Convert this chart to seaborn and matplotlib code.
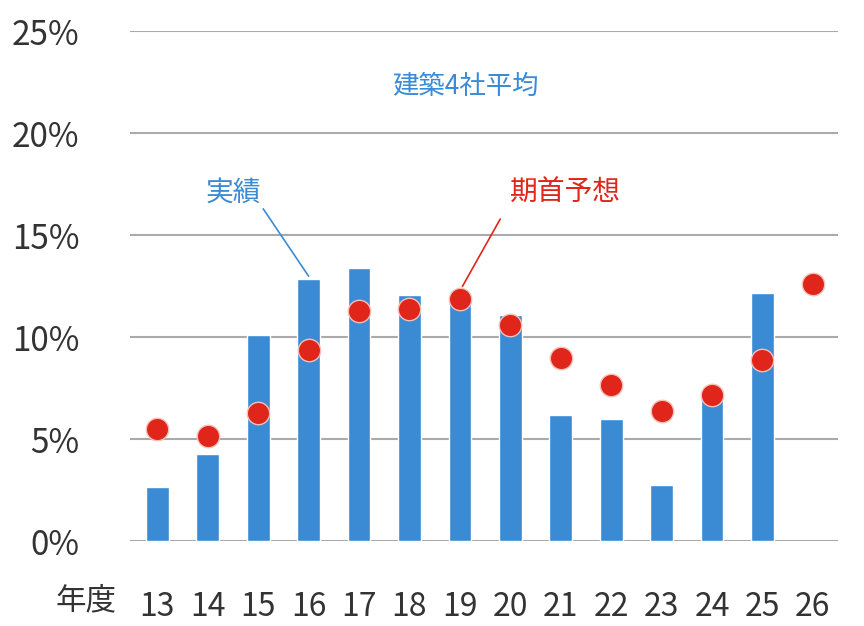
import matplotlib
matplotlib.use("Agg")
import matplotlib.pyplot as plt
import seaborn as sns
import numpy as np

# --- data ---
years = ["13", "14", "15", "16", "17", "18", "19", "20", "21", "22", "23", "24", "25", "26"]
actual = [2.65, 4.3, 10.1, 12.85, 13.4, 12.1, 11.9, 11.1, 6.2, 6.0, 2.75, 7.0, 12.2, np.nan]
forecast = [5.5, 5.15, 6.3, 9.4, 11.3, 11.4, 11.9, 10.6, 9.0, 7.65, 6.4, 7.2, 8.9, 12.6]

sns.set_style("white")
plt.rcParams['font.family'] = ['Noto Sans CJK JP', 'DejaVu Sans']

BLUE = "#3a8bd4"
RED = "#e0261b"

fig = plt.figure(figsize=(8.64, 6.26), dpi=100)
ax = fig.add_axes([0.15, 0.135, 0.82, 0.815])

x = np.arange(len(years))
sns.barplot(x=x, y=actual, color=BLUE, width=0.45, saturation=1, ax=ax, zorder=2)
ax.scatter(x, forecast, s=260, color=RED, edgecolor="#f5c0b8", linewidth=1, zorder=3)

ax.set_ylim(0, 25)
ax.set_xlim(-0.55, len(years) - 0.5)
ax.set_yticks(range(0, 26, 5))
ax.set_yticklabels([f"{v}%" for v in range(0, 26, 5)], fontsize=24, color="#333333")
ax.set_xticks(x)
ax.set_xticklabels(years, fontsize=23, color="#333333")
ax.tick_params(axis="x", length=0, pad=36)
ax.tick_params(axis="y", length=0, pad=36)
ax.yaxis.grid(True, color="#aaaaaa", linewidth=1.5, zorder=0)
ax.set_axisbelow(True)
for s in ax.spines.values():
    s.set_visible(False)

fig.text(0.1, 0.04, "年度", fontsize=22, color="#333333", ha="center", va="center")

ax.text(6.1, 22.3, "建築4社平均", fontsize=19, color=BLUE, ha="center", va="center")
ax.text(1.5, 17.1, "実績", fontsize=20, color=BLUE, ha="center", va="center")
ax.plot([2.1, 3.0], [16.3, 13.0], color=BLUE, lw=1.2, zorder=4)
ax.text(8.1, 17.1, "期首予想", fontsize=20, color=RED, ha="center", va="center")
ax.plot([6.8, 6.05], [15.8, 12.5], color=RED, lw=1.2, zorder=4)

fig.savefig("out.png", dpi=100)
